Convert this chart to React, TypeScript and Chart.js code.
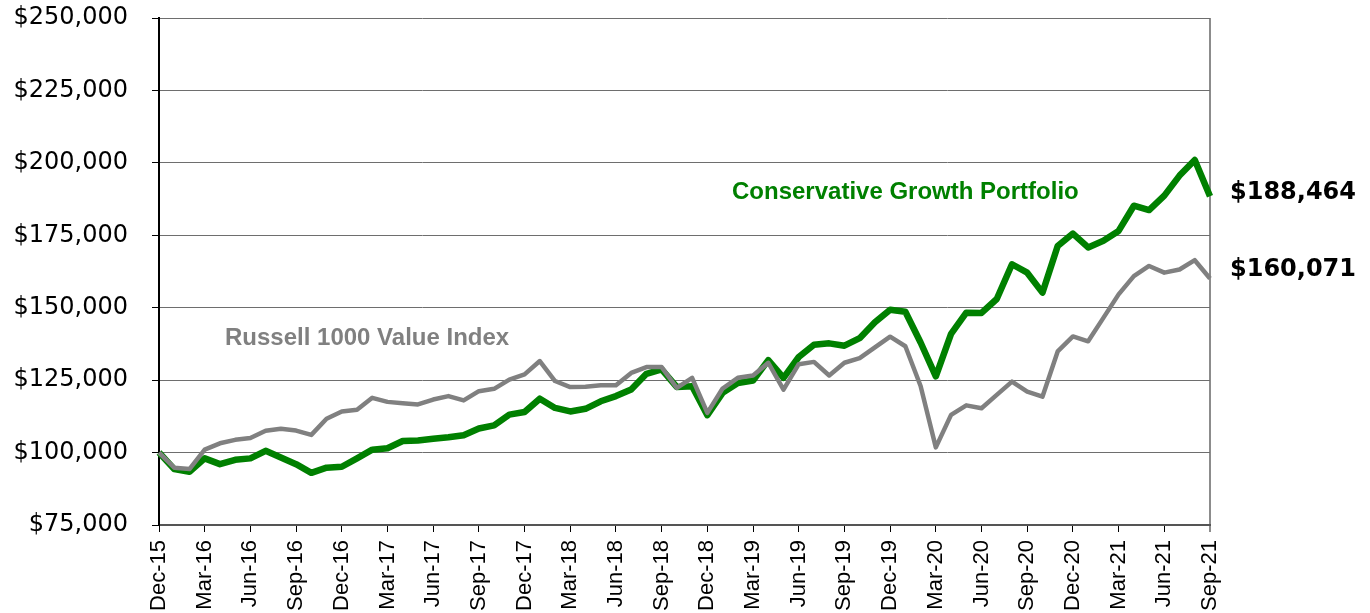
import React, { useEffect, useRef } from 'react';
import { Chart, registerables } from 'chart.js';

Chart.register(...registerables);

const monthLabels = [
  'Dec-15', 'Jan-16', 'Feb-16', 'Mar-16', 'Apr-16', 'May-16', 'Jun-16', 'Jul-16', 'Aug-16', 'Sep-16', 'Oct-16', 'Nov-16',
  'Dec-16', 'Jan-17', 'Feb-17', 'Mar-17', 'Apr-17', 'May-17', 'Jun-17', 'Jul-17', 'Aug-17', 'Sep-17', 'Oct-17', 'Nov-17',
  'Dec-17', 'Jan-18', 'Feb-18', 'Mar-18', 'Apr-18', 'May-18', 'Jun-18', 'Jul-18', 'Aug-18', 'Sep-18', 'Oct-18', 'Nov-18',
  'Dec-18', 'Jan-19', 'Feb-19', 'Mar-19', 'Apr-19', 'May-19', 'Jun-19', 'Jul-19', 'Aug-19', 'Sep-19', 'Oct-19', 'Nov-19',
  'Dec-19', 'Jan-20', 'Feb-20', 'Mar-20', 'Apr-20', 'May-20', 'Jun-20', 'Jul-20', 'Aug-20', 'Sep-20', 'Oct-20', 'Nov-20',
  'Dec-20', 'Jan-21', 'Feb-21', 'Mar-21', 'Apr-21', 'May-21', 'Jun-21', 'Jul-21', 'Aug-21', 'Sep-21',
];

const portfolioValues = [
  100000, 94300, 93400, 98000, 96000, 97500, 98000, 100600, 98300, 96000, 93000, 94800,
  95100, 98000, 101000, 101500, 104000, 104200, 104800, 105300, 106000, 108300, 109400, 113100,
  114000, 118600, 115400, 114200, 115100, 117700, 119500, 121800, 127200, 128700, 122600, 122900,
  112900, 120600, 124000, 124900, 131900, 125800, 133000, 137200, 137700, 136900, 139500, 145000,
  149300, 148600, 138000, 126300, 141000, 148300, 148200, 153000, 165000, 162100, 155200, 171300,
  175600, 170800, 173100, 176500, 185200, 183700, 188700, 195600, 201000, 188464,
];

const indexValues = [
  100000, 94800, 94300, 101000, 103200, 104400, 105000, 107500, 108200, 107600, 106100, 111700,
  114200, 114800, 118900, 117500, 117000, 116600, 118300, 119500, 118000, 121200, 122000, 125200,
  127000, 131600, 124700, 122600, 122700, 123200, 123200, 127500, 129500, 129500, 122300, 125800,
  113700, 122100, 125800, 126600, 131000, 121700, 130500, 131300, 126600, 131000, 132600, 136300,
  140000, 136700, 123000, 101800, 113000, 116300, 115300, 119900, 124500, 121000, 119300, 134900,
  140100, 138400, 146500, 154600, 160900, 164400, 162100, 163200, 166400, 160071,
];

const seriesNames = ['Conservative Growth Portfolio', 'Russell 1000 Value Index'];
const endLabels = ['$188,464', '$160,071'];
const Y_MIN = 75000;
const Y_MAX = 250000;
const Y_STEP = 25000;

const annotationPlugin = {
  id: 'textAnnotations',
  afterDatasetsDraw(chart: any) {
    const { ctx, chartArea } = chart;
    ctx.save();
    ctx.textBaseline = 'middle';
    ctx.textAlign = 'left';
    ctx.font = 'bold 24px "Liberation Sans", Arial, sans-serif';
    ctx.fillStyle = '#008000';
    ctx.fillText(seriesNames[0], 732, 192);
    ctx.fillStyle = '#808080';
    ctx.fillText(seriesNames[1], 225, 338);
    ctx.font = 'bold 24px "DejaVu Sans", sans-serif';
    ctx.fillStyle = '#000000';
    ctx.fillText(endLabels[0], chartArea.right + 20, 193);
    ctx.fillText(endLabels[1], chartArea.right + 20, 270);
    ctx.restore();
  },
};

export default function App() {
  const canvasRef = useRef<HTMLCanvasElement | null>(null);

  useEffect(() => {
    if (!canvasRef.current) return;
    const lastIdx = monthLabels.length - 1;
    const chart = new Chart(canvasRef.current, {
      type: 'line',
      data: {
        labels: monthLabels,
        datasets: [
          {
            label: seriesNames[1],
            data: indexValues,
            borderColor: '#808080',
            backgroundColor: '#808080',
            borderWidth: 4.5,
            pointRadius: 0,
            tension: 0,
            borderJoinStyle: 'round',
          },
          {
            label: seriesNames[0],
            data: portfolioValues,
            borderColor: '#008000',
            backgroundColor: '#008000',
            borderWidth: 6.5,
            pointRadius: 0,
            tension: 0,
            borderJoinStyle: 'round',
          },
        ],
      },
      options: {
        animation: false,
        responsive: true,
        maintainAspectRatio: false,
        layout: { padding: { top: 18, right: 160, bottom: 0, left: 0 } },
        plugins: {
          legend: { display: false },
          tooltip: { enabled: false },
        },
        scales: {
          x: {
            type: 'category',
            offset: false,
            afterFit: (scale: any) => {
              scale.height = 88;
              scale.paddingLeft = 0;
              scale.paddingRight = 0;
            },
            border: { display: true, color: '#555555', width: 2 },
            grid: {
              drawOnChartArea: true,
              color: (c: any) => (c.index === lastIdx ? '#8c8c8c' : 'rgba(0,0,0,0)'),
              lineWidth: (c: any) => (c.index === lastIdx ? 2 : 1),
              tickColor: (c: any) => (c.index === lastIdx ? '#8c8c8c' : c.index % 3 === 0 ? '#000000' : 'rgba(0,0,0,0)'),
              tickLength: 7,
            },
            ticks: {
              autoSkip: false,
              minRotation: 90,
              maxRotation: 90,
              padding: 8,
              color: '#000000',
              font: { family: '"Liberation Sans", Arial, sans-serif', size: 22 },
              callback: (_v: any, i: number) => (i % 3 === 0 ? monthLabels[i] : ''),
            },
          },
          y: {
            min: Y_MIN,
            max: Y_MAX,
            afterFit: (scale: any) => {
              scale.width = 159;
              scale.paddingTop = 0;
              scale.paddingBottom = 0;
            },
            border: { display: true, color: '#000000', width: 2 },
            grid: {
              color: '#6e6e6e',
              lineWidth: 1,
              tickColor: '#000000',
              tickLength: 7,
            },
            ticks: {
              stepSize: Y_STEP,
              padding: 24,
              color: '#000000',
              font: { family: '"DejaVu Sans", sans-serif', size: 24 },
              callback: (v: any) => '$' + Number(v).toLocaleString('en-US'),
            },
          },
        },
      },
      plugins: [annotationPlugin],
    });
    return () => chart.destroy();
  }, []);

  return (
    <div style={{ position: 'fixed', left: 0, top: 0, width: 1370, height: 613, background: '#ffffff' }}>
      <canvas ref={canvasRef} />
    </div>
  );
}
